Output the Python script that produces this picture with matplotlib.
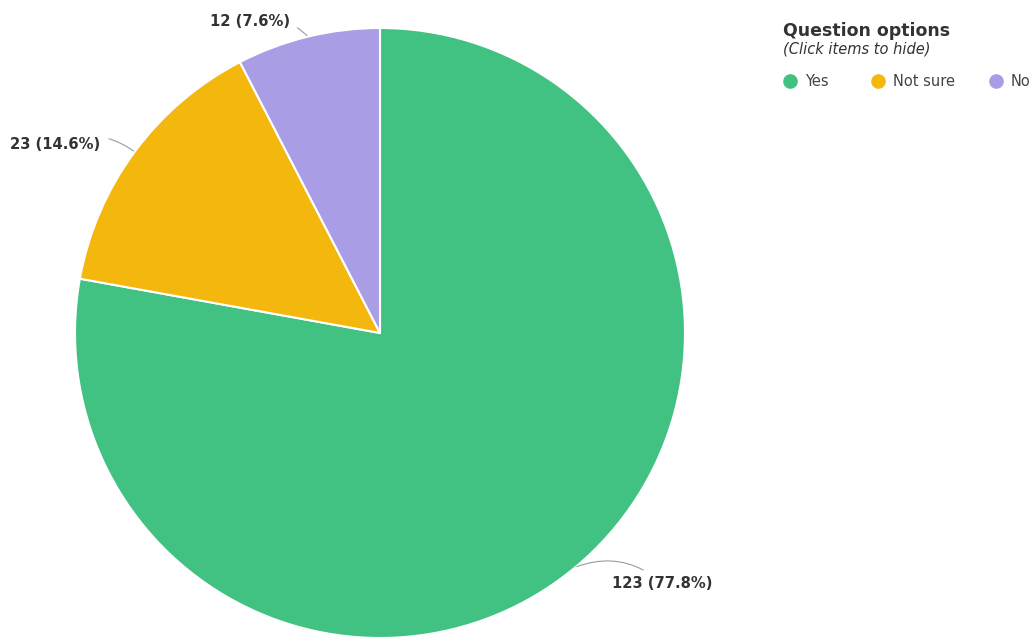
import numpy as np
import matplotlib
matplotlib.use("Agg")
import matplotlib.pyplot as plt
from matplotlib.lines import Line2D

# ── data ─────────────────────────────────────────────────────────────────────
options = ["Yes", "Not sure", "No"]
counts = [123, 23, 12]
colors = ["#41c283", "#f4b70e", "#a99ee6"]

# label offsets from the slice edge, in pixels (layout only)
label_offsets = [(36, -16), (-34, 7), (-18, 15)]

W, H = 1036, 637
fig = plt.figure(figsize=(W / 100, H / 100), dpi=100)

# pie centred at (380, 333) px, radius 305 px
cx, cy, r = 380, 333, 305
ax = fig.add_axes([(cx - r) / W, (H - cy - r) / H, 2 * r / W, 2 * r / H])

wedges, _ = ax.pie(counts, colors=colors, startangle=90, counterclock=False,
                   radius=1, wedgeprops=dict(edgecolor="white", linewidth=1.5))
ax.set_xlim(-1, 1)
ax.set_ylim(-1, 1)
ax.set_aspect("equal")
ax.axis("off")

total = sum(counts)
for w, n, (dx, dy) in zip(wedges, counts, label_offsets):
    theta = np.deg2rad((w.theta1 + w.theta2) / 2)
    x, y = np.cos(theta), np.sin(theta)
    ha = "left" if x > 0 else "right"
    ax.annotate(f"{n} ({100 * n / total:.1f}%)", xy=(x, y), xytext=(dx * 0.72, dy * 0.72),
                textcoords="offset points",
                ha=ha, va="center", fontsize=10.6, fontweight="bold", color="#333333",
                annotation_clip=False,
                arrowprops=dict(arrowstyle="-", color="#8fa0a4", lw=0.8,
                                shrinkA=4, shrinkB=1,
                                connectionstyle="arc3,rad=-0.3" if x < 0 else "arc3,rad=0.3"))

# ── legend (drawn by hand to match the web widget) ──────────────────────────
fig.text(783 / W, 1 - 31 / H, "Question options", fontsize=12.5, fontweight="bold",
         color="#333333", va="center")
fig.text(783 / W, 1 - 49 / H, "(Click items to hide)", fontsize=10.5, style="italic",
         color="#333333", va="center")
legend_x = [790, 878, 996]
for lx, lab, c in zip(legend_x, options, colors):
    fig.add_artist(Line2D([lx / W], [1 - 81 / H], marker="o", markersize=9.5,
                          markerfacecolor=c, markeredgecolor=c, linestyle="none"))
    fig.text((lx + 15) / W, 1 - 81 / H, lab, fontsize=10.5, color="#444444", va="center")

fig.savefig("out.png", dpi=100)
